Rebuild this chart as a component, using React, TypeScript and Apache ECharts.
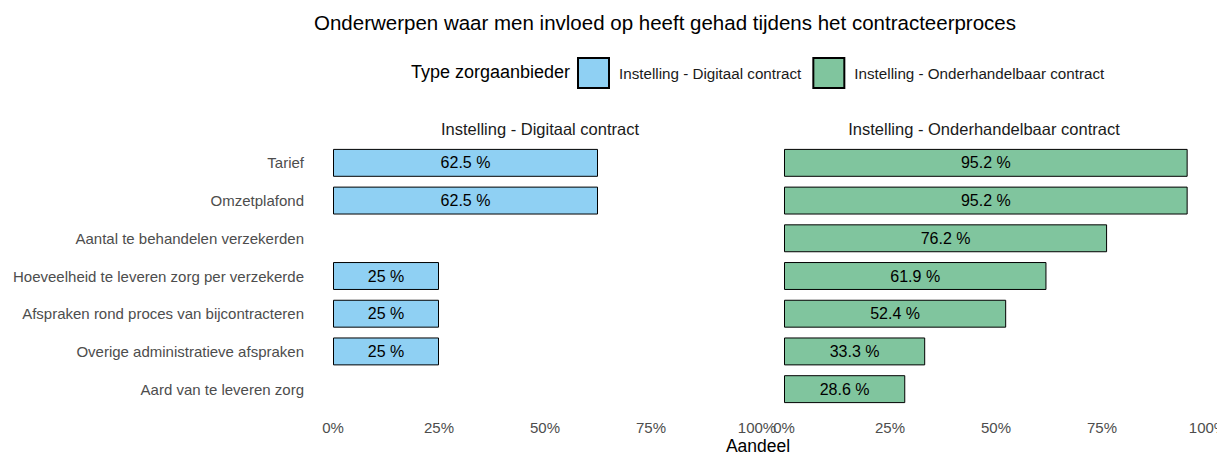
import React, { useEffect, useRef } from "react";
import * as echarts from "echarts";

const categories = [
  "Tarief",
  "Omzetplafond",
  "Aantal te behandelen verzekerden",
  "Hoeveelheid te leveren zorg per verzekerde",
  "Afspraken rond proces van bijcontracteren",
  "Overige administratieve afspraken",
  "Aard van te leveren zorg",
];
const digitaal: (number | null)[] = [62.5, 62.5, null, 25, 25, 25, null];
const onderhandelbaar: number[] = [95.2, 95.2, 76.2, 61.9, 52.4, 33.3, 28.6];
const xTicks = [0, 25, 50, 75, 100];
const seriesNames = ["Instelling - Digitaal contract", "Instelling - Onderhandelbaar contract"];
const colors = ["#8fd0f3", "#80c59e"];

export default function App() {
  const ref = useRef<HTMLDivElement>(null);
  useEffect(() => {
    document.body.style.margin = "0";
    const chart = echarts.init(ref.current!, null, { renderer: "svg" });
    const font = "Liberation Sans, Arial, sans-serif";
    const xAxisBase = (gridIndex: number) => ({
      type: "value" as const,
      gridIndex,
      min: xTicks[0],
      max: xTicks[xTicks.length - 1],
      interval: 25,
      axisLine: { show: false },
      axisTick: { show: false },
      splitLine: { show: false },
      axisLabel: {
        formatter: (v: number) => `${v}%`,
        color: "#4d4d4d",
        fontSize: 15,
        fontFamily: font,
        margin: 12,
      },
    });
    const yAxisBase = (gridIndex: number, showLabels: boolean) => ({
      type: "category" as const,
      gridIndex,
      data: categories,
      inverse: true,
      axisLine: { show: false },
      axisTick: { show: false },
      splitLine: { show: false },
      axisLabel: {
        show: showLabels,
        color: "#4d4d4d",
        fontSize: 15,
        fontFamily: font,
        margin: 29,
      },
    });
    const labelCfg = {
      show: true,
      position: "inside" as const,
      color: "#000",
      fontSize: 16,
      fontFamily: font,
      formatter: (p: any) => `${p.value} %`,
    };
    chart.setOption({
      animation: false,
      textStyle: { fontFamily: font },
      grid: [
        { left: 333, width: 424, top: 144, height: 264, outerBoundsMode: "none", containLabel: false },
        { left: 784, width: 424, top: 144, height: 264, outerBoundsMode: "none", containLabel: false },
      ],
      xAxis: [xAxisBase(0), xAxisBase(1)],
      yAxis: [yAxisBase(0, true), yAxisBase(1, false)],
      legend: {
        left: 577,
        top: 57,
        padding: 0,
        itemWidth: 31,
        itemHeight: 30,
        itemGap: 11,
        icon: "rect",
        data: seriesNames,
        textStyle: { fontSize: 15.2, color: "#1a1a1a", fontFamily: font, padding: [0, 0, 0, 5] },
      },
      series: [
        {
          name: seriesNames[0],
          type: "bar",
          xAxisIndex: 0,
          yAxisIndex: 0,
          data: digitaal,
          barCategoryGap: "26%",
          itemStyle: { color: colors[0], borderColor: "#000", borderWidth: 1 },
          label: labelCfg,
        },
        {
          name: seriesNames[1],
          type: "bar",
          xAxisIndex: 1,
          yAxisIndex: 1,
          data: onderhandelbaar,
          barCategoryGap: "26%",
          itemStyle: { color: colors[1], borderColor: "#000", borderWidth: 1 },
          label: labelCfg,
        },
      ],
      graphic: [
        {
          type: "text",
          x: 665,
          y: 22,
          style: {
            text: "Onderwerpen waar men invloed op heeft gehad tijdens het contracteerproces",
            fontSize: 20.5,
            fontFamily: font,
            fill: "#000",
            align: "center",
            verticalAlign: "middle",
          },
        },
        {
          type: "text",
          x: 570,
          y: 72,
          style: {
            text: "Type zorgaanbieder",
            fontSize: 18,
            fontFamily: font,
            fill: "#000",
            align: "right",
            verticalAlign: "middle",
          },
        },
        {
          type: "text",
          x: 540,
          y: 129,
          style: {
            text: seriesNames[0],
            fontSize: 16.5,
            fontFamily: font,
            fill: "#1a1a1a",
            align: "center",
            verticalAlign: "middle",
          },
        },
        {
          type: "text",
          x: 984,
          y: 129,
          style: {
            text: seriesNames[1],
            fontSize: 16.5,
            fontFamily: font,
            fill: "#1a1a1a",
            align: "center",
            verticalAlign: "middle",
          },
        },
        {
          type: "text",
          x: 758,
          y: 446,
          style: {
            text: "Aandeel",
            fontSize: 17.5,
            fontFamily: font,
            fill: "#000",
            align: "center",
            verticalAlign: "middle",
          },
        },
      ],
    });
    return () => chart.dispose();
  }, []);
  return <div ref={ref} style={{ width: 1217, height: 455 }} />;
}
